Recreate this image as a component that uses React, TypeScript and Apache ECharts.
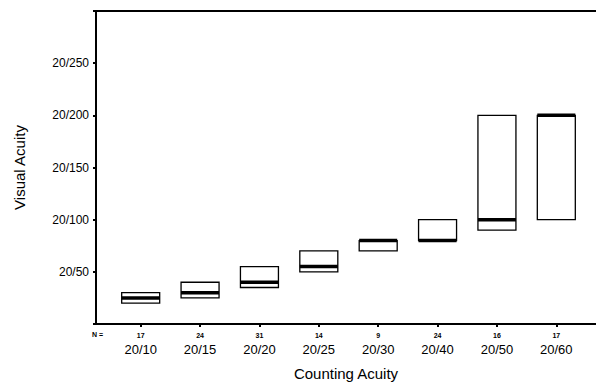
import React, { useEffect, useRef } from "react";
import * as echarts from "echarts";

const categories = ["20/10", "20/15", "20/20", "20/25", "20/30", "20/40", "20/50", "20/60"];
const nCounts = [17, 24, 31, 14, 9, 24, 16, 17];
const q1 = [20, 25, 35, 50, 70, 80, 90, 100];
const medians = [25, 30, 40, 55, 80, 80, 100, 200];
const q3 = [30, 40, 55, 70, 80, 100, 200, 200];
const yLabeled = [50, 100, 150, 200, 250];

const FONT = "Liberation Sans, Arial, sans-serif";

export default function App() {
  const ref = useRef<HTMLDivElement>(null);
  useEffect(() => {
    if (!ref.current) return;
    const chart = echarts.init(ref.current, null, { renderer: "svg" });
    const boxData = q1.map((q, i) => [q, q, medians[i], q3[i], q3[i]]);
    const medData = medians.map((m, i) => [i, m]);
    chart.setOption({
      animation: false,
      backgroundColor: "#fff",
      textStyle: { fontFamily: FONT, color: "#000" },
      grid: [
        { left: 111, right: 10, top: 11, bottom: 60, containLabel: false, outerBoundsMode: "none" },
        { left: 96, right: 0, top: 11, bottom: 60, containLabel: false, outerBoundsMode: "none" },
      ],
      xAxis: [
        {
          type: "category",
          gridIndex: 0,
          data: categories,
          axisLine: { show: false },
          axisTick: { show: true, alignWithLabel: true, interval: 0, length: 3, lineStyle: { color: "#000", width: 2 } },
          axisLabel: {
            margin: 6,
            interval: 0,
            formatter: (v: string, i: number) => `{n|${nCounts[i]}}\n{c|${v}}`,
            rich: {
              n: { fontSize: 7, fontWeight: "bold", lineHeight: 11, fontFamily: FONT, color: "#000" },
              c: { fontSize: 13, lineHeight: 17, fontFamily: FONT, color: "#000" },
            },
          },
          splitLine: { show: false },
        },
        {
          type: "value",
          gridIndex: 1,
          min: 0,
          max: 1,
          position: "bottom",
          axisLine: { show: true, lineStyle: { color: "#000", width: 2 } },
          axisTick: { show: false },
          axisLabel: { show: false },
          splitLine: { show: false },
          name: "Counting Acuity",
          nameLocation: "middle",
          nameGap: 49,
          nameTextStyle: { fontSize: 15, fontFamily: FONT, color: "#000", verticalAlign: "middle", lineHeight: 15 },
        },
        {
          type: "value",
          gridIndex: 1,
          min: 0,
          max: 1,
          position: "top",
          axisLine: { show: true, lineStyle: { color: "#000", width: 2 } },
          axisTick: { show: false },
          axisLabel: { show: false },
          splitLine: { show: false },
        },
      ],
      yAxis: [
        { type: "value", gridIndex: 0, min: 0, max: 300, show: false },
        {
          type: "value",
          gridIndex: 1,
          min: 0,
          max: 300,
          interval: 50,
          axisLine: { show: true, lineStyle: { color: "#000", width: 2 } },
          axisTick: { show: true, length: 3, lineStyle: { color: "#000", width: 2 } },
          axisLabel: {
            margin: 7,
            fontSize: 12,
            color: "#000",
            fontFamily: FONT,
            formatter: (v: number) => (yLabeled.includes(v) ? `20/${v}` : ""),
          },
          splitLine: { show: false },
          name: "Visual Acuity",
          nameLocation: "middle",
          nameGap: 69,
          nameTextStyle: { fontSize: 15, fontFamily: FONT, color: "#000" },
        },
      ],
      graphic: [
        {
          type: "text",
          left: 92,
          top: 331,
          style: { text: "N =", fontSize: 7, fontWeight: "bold", fontFamily: FONT, fill: "#000" },
        },
      ],
      series: [
        {
          type: "boxplot",
          xAxisIndex: 0,
          yAxisIndex: 0,
          data: boxData,
          boxWidth: [38, 38],
          z: 2,
          itemStyle: { color: "#fff", borderColor: "#000", borderWidth: 1.3 },
        },
        {
          type: "custom",
          xAxisIndex: 0,
          yAxisIndex: 0,
          z: 10,
          data: medData,
          encode: { x: 0, y: 1 },
          renderItem: (params: any, api: any) => {
            const p = api.coord([api.value(0), api.value(1)]);
            const w = 38;
            return {
              type: "line",
              z2: 10,
              shape: { x1: p[0] - w / 2, y1: p[1], x2: p[0] + w / 2, y2: p[1] },
              style: { stroke: "#000", lineWidth: 3.5 },
            };
          },
        },
      ],
    });
    return () => chart.dispose();
  }, []);
  return (
    <div
      ref={ref}
      style={{ position: "fixed", left: 0, top: 0, width: 596, height: 384, background: "#fff" }}
    />
  );
}
